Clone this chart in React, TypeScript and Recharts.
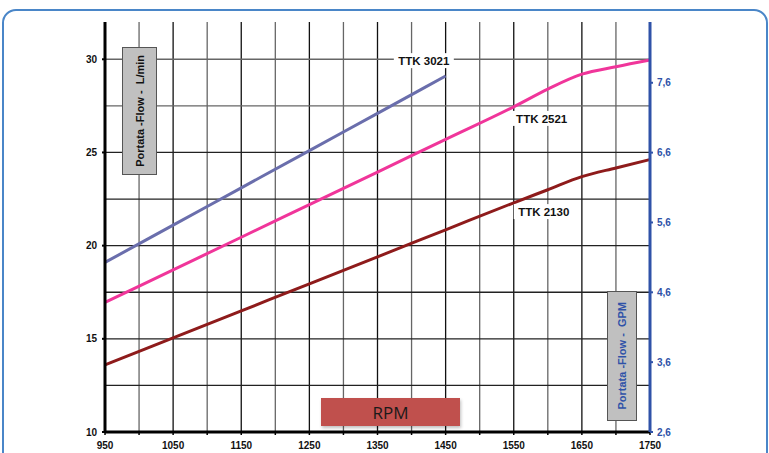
import { LineChart, Line, XAxis, YAxis, ReferenceLine, ReferenceDot } from "recharts";

// flow (L/min) at each rpm
const rpm = [950, 1050, 1150, 1250, 1350, 1450, 1550, 1600, 1650, 1700, 1750];
const ttk2130 = [13.6, 15.05, 16.5, 17.95, 19.4, 20.85, 22.3, 23.0, 23.7, 24.17, 24.62];
const ttk2521 = [16.95, 18.7, 20.45, 22.2, 23.95, 25.7, 27.45, 28.4, 29.2, 29.6, 29.96];
const ttk3021 = [19.1, 21.1, 23.1, 25.1, 27.1, 29.1, null, null, null, null, null];

const xTicks = [950, 1000, 1050, 1100, 1150, 1200, 1250, 1300, 1350, 1400, 1450, 1500, 1550, 1600, 1650, 1700, 1750];
const xLabels = [950, 1050, 1150, 1250, 1350, 1450, 1550, 1650, 1750];
const gridX = [1000, 1050, 1100, 1150, 1200, 1250, 1300, 1350, 1400, 1450, 1500, 1550, 1600, 1650, 1700];
const gridY = [12.5, 15, 17.5, 20, 22.5, 25, 27.5, 30];
const lpmTicks = [10, 15, 20, 25, 30];
const gpmTicks = [2.6, 3.6, 4.6, 5.6, 6.6, 7.6];

const seriesLabels = [
  { name: "TTK 3021", rpm: 1418, flow: 29.9 },
  { name: "TTK 2521", rpm: 1591, flow: 26.8 },
  { name: "TTK 2130", rpm: 1594, flow: 21.8 },
];

const data = rpm.map((r, i) => ({
  rpm: r,
  ttk2130: ttk2130[i],
  ttk2521: ttk2521[i],
  ttk3021: ttk3021[i],
}));

const FONT = "'Liberation Sans', Arial, sans-serif";
const BLUE = "#2F52A8";

function SeriesTag(props: any) {
  const { cx, cy, text } = props;
  return (
    <g>
      <rect x={cx - 30} y={cy - 8} width={60} height={15} fill="#fff" />
      <text
        x={cx}
        y={cy}
        textAnchor="middle"
        dominantBaseline="central"
        fontSize={11.5}
        fontWeight="bold"
        fontFamily={FONT}
        fill="#111"
      >
        {text}
      </text>
    </g>
  );
}

export default function App() {
  return (
    <div style={{ position: "relative", width: 769, height: 453, background: "#fff", overflow: "hidden", fontFamily: FONT }}>
      <style>{`body{margin:0}`}</style>

      <div
        style={{
          position: "absolute",
          left: 2,
          top: 9,
          width: 762,
          height: 470,
          border: "2.5px solid #4A86C8",
          borderRadius: 14,
        }}
      />

      <div style={{ position: "absolute", left: 0, top: 0 }}>
        <LineChart
          width={769}
          height={453}
          data={data}
          margin={{ top: 22, right: 69, bottom: 1, left: 65 }}
        >
          <XAxis
            dataKey="rpm"
            type="number"
            domain={[950, 1750]}
            ticks={xTicks}
            interval={0}
            tickFormatter={(v: number) => (xLabels.includes(v) ? String(v) : "")}
            height={20}
            tickSize={3}
            tickMargin={7}
            axisLine={{ stroke: "#000", strokeWidth: 3 }}
            tickLine={{ stroke: "#000", strokeWidth: 1.5 }}
            tick={{ fontSize: 10, fontWeight: "bold", fill: "#111", fontFamily: FONT }}
          />
          <YAxis
            yAxisId="left"
            type="number"
            domain={[10, 32]}
            ticks={lpmTicks}
            interval={0}
            width={40}
            tickSize={3}
            tickMargin={5}
            axisLine={{ stroke: "#000", strokeWidth: 3 }}
            tickLine={{ stroke: "#000", strokeWidth: 2 }}
            tick={{ fontSize: 10, fontWeight: "bold", fill: "#111", fontFamily: FONT }}
          />
          <YAxis
            yAxisId="right"
            orientation="right"
            type="number"
            domain={[2.6, 8.47]}
            allowDataOverflow
            ticks={gpmTicks}
            interval={0}
            width={50}
            tickSize={3}
            tickMargin={4}
            tickFormatter={(v: number) => v.toFixed(1).replace(".", ",")}
            axisLine={{ stroke: BLUE, strokeWidth: 3 }}
            tickLine={{ stroke: BLUE, strokeWidth: 2 }}
            tick={{ fontSize: 10, fontWeight: "bold", fill: BLUE, fontFamily: FONT }}
          />

          {gridX.map((x) => (
            <ReferenceLine
              key={"gx" + x}
              yAxisId="left"
              x={x}
              stroke={xLabels.includes(x) ? "#111" : "#666"}
              strokeWidth={1.3}
            />
          ))}
          {gridY.map((y) => (
            <ReferenceLine
              key={"gy" + y}
              yAxisId="left"
              y={y}
              stroke={y >= 27.5 ? "#666" : "#222"}
              strokeWidth={1.3}
            />
          ))}

          <Line
            yAxisId="left"
            dataKey="ttk2130"
            type="monotone"
            stroke="#8E1B1B"
            strokeWidth={3}
            dot={false}
            isAnimationActive={false}
          />
          <Line
            yAxisId="left"
            dataKey="ttk2521"
            type="monotone"
            stroke="#F0359A"
            strokeWidth={3}
            dot={false}
            isAnimationActive={false}
          />
          <Line
            yAxisId="left"
            dataKey="ttk3021"
            type="monotone"
            stroke="#6A6EAC"
            strokeWidth={3}
            dot={false}
            isAnimationActive={false}
          />

          {seriesLabels.map((s) => (
            <ReferenceDot
              key={s.name}
              yAxisId="left"
              x={s.rpm}
              y={s.flow}
              r={0}
              shape={(p: any) => <SeriesTag {...p} text={s.name} />}
            />
          ))}
        </LineChart>
      </div>

      <div
        style={{
          position: "absolute",
          left: 122,
          top: 47,
          width: 33,
          height: 126,
          background: "#C0C0C0",
          border: "1.5px solid #555",
          display: "flex",
          alignItems: "center",
          justifyContent: "center",
        }}
      >
        <span
          style={{
            writingMode: "vertical-rl",
            transform: "rotate(180deg)",
            whiteSpace: "pre",
            fontSize: 11,
            fontWeight: "bold",
            color: "#111",
          }}
        >
          {"Portata -Flow -  L/min"}
        </span>
      </div>

      <div
        style={{
          position: "absolute",
          left: 607,
          top: 291,
          width: 28,
          height: 128,
          background: "#C0C0C0",
          border: "1.5px solid #555",
          display: "flex",
          alignItems: "center",
          justifyContent: "center",
        }}
      >
        <span
          style={{
            writingMode: "vertical-rl",
            transform: "rotate(180deg)",
            whiteSpace: "pre",
            fontSize: 11,
            fontWeight: "bold",
            color: BLUE,
          }}
        >
          {"Portata -Flow -  GPM"}
        </span>
      </div>

      <div
        style={{
          position: "absolute",
          left: 321,
          top: 398,
          width: 139,
          height: 28,
          background: "#C0504D",
          boxShadow: "1px 2px 3px rgba(0,0,0,0.25)",
          display: "flex",
          alignItems: "center",
          justifyContent: "center",
          fontSize: 17,
          color: "#1a1a1a",
          fontFamily: "'Open Sans', 'Liberation Sans', sans-serif",
        }}
      >
        RPM
      </div>
    </div>
  );
}
